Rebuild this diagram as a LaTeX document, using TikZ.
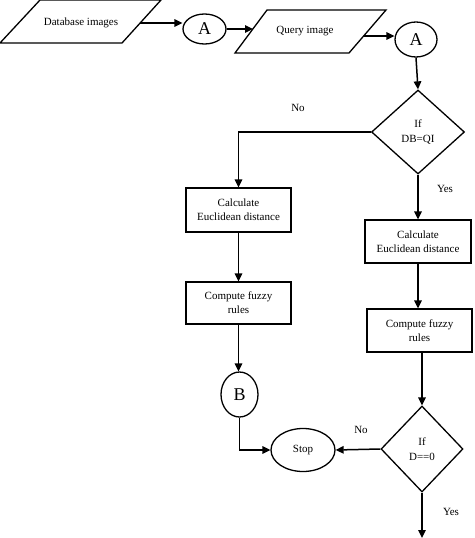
\documentclass[tikz,border=0pt]{standalone}
\usepackage{fontspec}
\setmainfont{Liberation Serif}
\usetikzlibrary{shapes.geometric,arrows.meta}
\begin{document}
\begin{tikzpicture}[x=1pt,y=-1pt, line width=1.3pt,
  font=\fontsize{11}{14}\selectfont,
  arr/.style={line width=1.5pt, -{Triangle[length=8pt,width=7.5pt]}},
  box/.style={draw, rectangle, inner sep=0pt, align=center},
  conn/.style={draw, ellipse, inner sep=0pt, font=\fontsize{18}{20}\selectfont},
  dec/.style={draw, diamond, inner sep=0pt, align=center, font=\fontsize{11}{15}\selectfont},
  lbl/.style={inner sep=0pt}]
\useasboundingbox (0,0) rectangle (474,538);
% Database images
\draw (0,43) -- (122,43) -- (161,0) -- (40,0) -- cycle;
\node[lbl] (db) at (81,23) {Database images};
\coordinate (dbo) at (140,23);
% A1
\node[conn, minimum width=43pt, minimum height=30pt] (A1) at (204.5,29) {A};
% Query image
\draw (235,53) -- (349,53) -- (386,10) -- (267,10) -- cycle;
\node[lbl] (qi) at (305,31) {Query image};
\coordinate (qii) at (253,29);
\coordinate (qio) at (363.5,36);
% A2
\node[conn, minimum width=42pt, minimum height=35pt] (A2) at (416,39.5) {A};
% decision 1
\node[dec, minimum width=93pt, minimum height=84pt] (d1) at (418,132) {If\\DB=QI};
% left column
\node[box, minimum width=105pt, minimum height=44pt] (l1) at (238.5,210) {Calculate\\Euclidean distance};
\node[box, minimum width=105pt, minimum height=42pt] (l2) at (238.5,303) {Compute fuzzy\\rules};
\node[conn, minimum width=37pt, minimum height=45pt] (B) at (239.5,394.5) {B};
\node[draw, ellipse, inner sep=0pt, minimum width=64pt, minimum height=43pt] (stop) at (303,450) {Stop};
% right column
\node[box, minimum width=106pt, minimum height=43pt] (r1) at (418,241.5) {Calculate\\Euclidean distance};
\node[box, minimum width=105pt, minimum height=43pt] (r2) at (419.5,330.5) {Compute fuzzy\\rules};
\node[dec, minimum width=82pt, minimum height=86pt] (d2) at (422,449) {If\\D==0};
\coordinate (end) at (422,538);
% connectors
\draw[arr] (dbo) -- (dbo -| A1.west);
\draw[arr] (A1.east) -- (qii);
\draw[arr] (qio) -- (qio -| A2.west);
\draw[arr] (A2.south) -- (d1.north);
\draw[arr] (d1.west) -| (l1.north);
\draw[arr] (l1.south) -- (l2.north);
\draw[arr] (l2.south) -- (l2.south |- B.north);
\draw[arr] (B.south) |- (stop.west);
\draw[arr] (d1.south) -- (d1.south |- r1.north);
\draw[arr] (r1.south) -- (r1.south |- r2.north);
\draw[arr] (r2.south -| d2.north) -- (d2.north);
\draw[arr] (d2.west) -- (stop.east);
\draw[arr] (d2.south) -- (end);
% labels
\node[lbl] at (298,108) {No};
\node[lbl] at (445,189) {Yes};
\node[lbl] at (361,430) {No};
\node[lbl] at (451,512) {Yes};
\end{tikzpicture}
\end{document}
